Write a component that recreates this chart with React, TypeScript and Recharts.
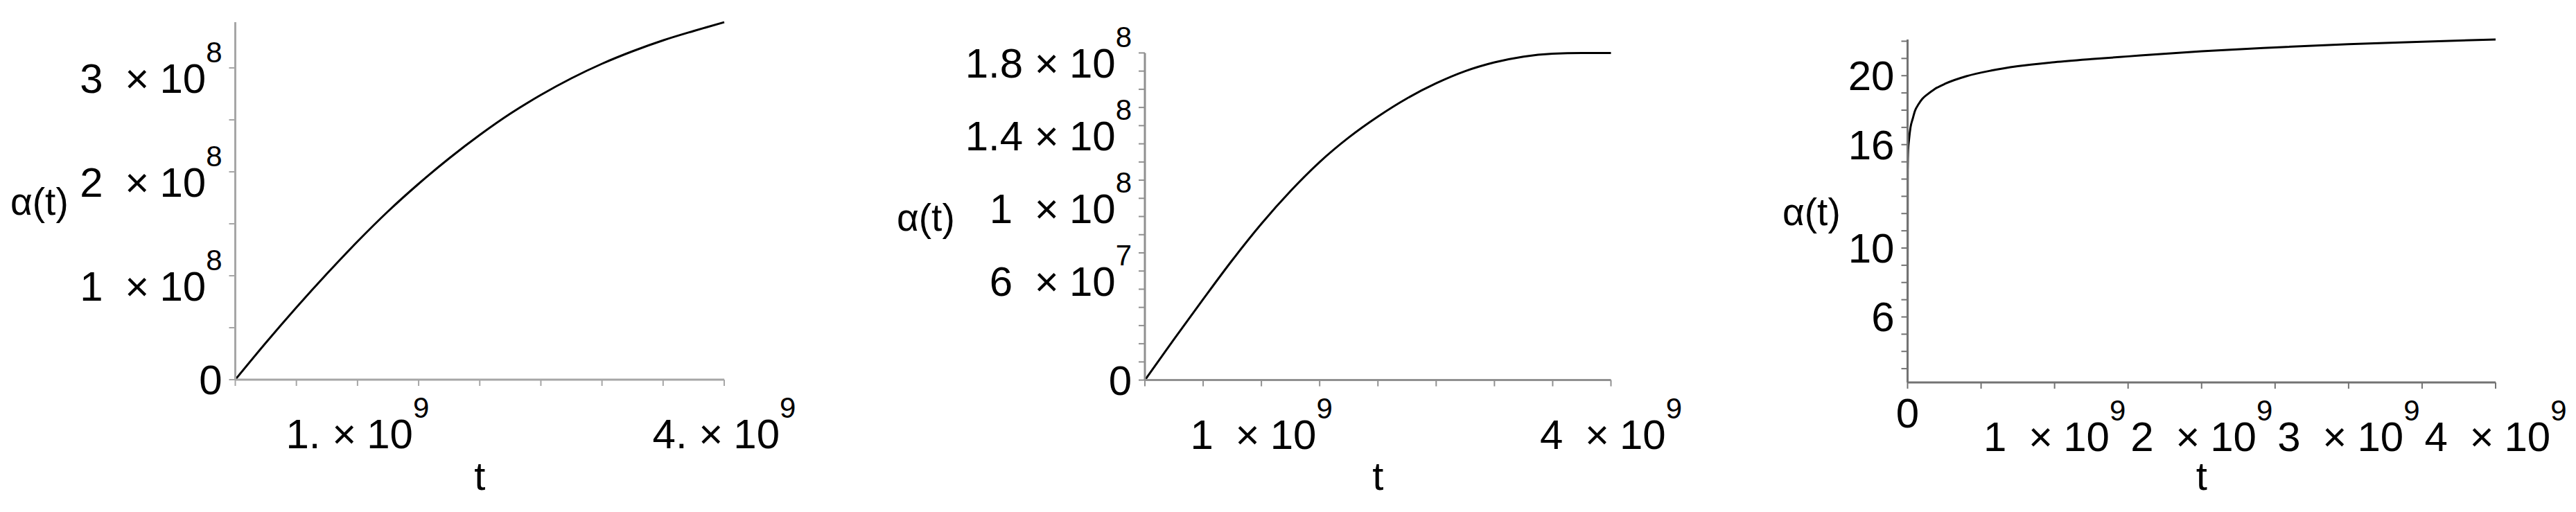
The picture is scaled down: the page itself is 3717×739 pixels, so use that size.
import { LineChart, Line, XAxis, YAxis, Label } from 'recharts'

const FONT = '"Liberation Sans", Arial, Helvetica, sans-serif'
const H = 739

// time grid shared by the first two plots
const tGrid = [0, 2.5e8, 5e8, 7.5e8, 1e9, 1.25e9, 1.5e9, 1.75e9, 2e9, 2.25e9, 2.5e9, 2.75e9, 3e9, 3.25e9, 3.5e9, 3.75e9, 4e9]
const alphaA = [0, 0.355e8, 0.695e8, 1.02e8, 1.33e8, 1.62e8, 1.885e8, 2.13e8, 2.355e8, 2.56e8, 2.74e8, 2.9e8, 3.04e8, 3.16e8, 3.265e8, 3.355e8, 3.44e8]
const alphaB = [0, 0.225e8, 0.445e8, 0.66e8, 0.86e8, 1.04e8, 1.2e8, 1.335e8, 1.45e8, 1.55e8, 1.633e8, 1.7e8, 1.748e8, 1.78e8, 1.796e8, 1.8e8, 1.8e8]

// third plot: steep start, then slow growth
const tC = [0, 1e6, 4e6, 1e7, 2e7, 3.5e7, 5e7, 7.5e7, 1e8, 1.4e8, 1.8e8, 2.6e8, 4e8, 5.7e8, 7.5e8, 1e9, 1.25e9, 1.5e9, 2e9, 2.5e9, 3e9, 3.5e9, 4e9]
const alphaC = [2.2, 14.5, 15.7, 16.3, 17.0, 17.5, 17.95, 18.35, 18.65, 18.95, 19.2, 19.55, 19.97, 20.3, 20.55, 20.78, 20.96, 21.12, 21.42, 21.64, 21.83, 21.97, 22.1]

const tTicks = [0, 5e8, 1e9, 1.5e9, 2e9, 2.5e9, 3e9, 3.5e9, 4e9]
const yTicksA = [0, 5e7, 1e8, 1.5e8, 2e8, 2.5e8, 3e8]
const yTicksB = [0, 1e7, 2e7, 3e7, 4e7, 5e7, 6e7, 7e7, 8e7, 9e7, 1e8, 1.1e8, 1.2e8, 1.3e8, 1.4e8, 1.5e8, 1.6e8, 1.7e8, 1.8e8]
const yTicksC = [3, 4, 5, 6, 7, 8, 9, 10, 11, 12, 13, 14, 15, 16, 17, 18, 19, 20, 21, 22]

type Lab = { v: number; m: string; e?: string }

const yLabelsA: Lab[] = [{ v: 0, m: '0' }, { v: 1e8, m: '1', e: '8' }, { v: 2e8, m: '2', e: '8' }, { v: 3e8, m: '3', e: '8' }]
const xLabelsA: Lab[] = [{ v: 1e9, m: '1.', e: '9' }, { v: 4e9, m: '4.', e: '9' }]
const yLabelsB: Lab[] = [{ v: 0, m: '0' }, { v: 6e7, m: '6', e: '7' }, { v: 1e8, m: '1', e: '8' }, { v: 1.4e8, m: '1.4', e: '8' }, { v: 1.8e8, m: '1.8', e: '8' }]
const xLabelsB: Lab[] = [{ v: 1e9, m: '1', e: '9' }, { v: 4e9, m: '4', e: '9' }]
const yLabelsC: Lab[] = [{ v: 6, m: '6' }, { v: 10, m: '10' }, { v: 16, m: '16' }, { v: 20, m: '20' }]
const xLabelsC: Lab[] = [{ v: 0, m: '0' }, { v: 1e9, m: '1', e: '9' }, { v: 2e9, m: '2', e: '9' }, { v: 3e9, m: '3', e: '9' }, { v: 4e9, m: '4', e: '9' }]

function spans(lab: Lab) {
  if (!lab.e) return lab.m
  // maple leaves a little extra room after integer mantissas
  const gap = 16.7 + (lab.m.includes('.') ? 0 : 15)
  return (
    <>
      <tspan>{lab.m}</tspan>
      <tspan dx={gap}>×</tspan>
      <tspan dx={15}>10</tspan>
      <tspan dy={-44} fontSize={42}>{lab.e}</tspan>
    </>
  )
}

function YTick(props: any) {
  const { x, y, payload, labels } = props
  const lab = labels.find((l: Lab) => l.v === payload.value)
  if (!lab) return <g />
  return (
    <text x={x - 8} y={lab.e ? y + 36 : y + 21} textAnchor="end" fontFamily={FONT} fontSize={60} fill="#000">
      {spans(lab)}
    </text>
  )
}

function XTick(props: any) {
  const { x, y, payload, labels } = props
  const lab = labels.find((l: Lab) => l.v === payload.value)
  if (!lab) return <g />
  const top = y + 11
  return (
    <text x={x} y={lab.e ? top + 77 : top + 43} textAnchor="middle" fontFamily={FONT} fontSize={60} fill="#000">
      {spans(lab)}
    </text>
  )
}

interface PanelProps {
  left: number
  width: number
  plotLeft: number
  plotRight: number
  plotTop: number
  plotBottom: number
  titleX: number
  axis: string
  t: number[]
  alpha: number[]
  yDomain: [number, number]
  yTicks: number[]
  yLabels: Lab[]
  xLabels: Lab[]
}

function Panel(p: PanelProps) {
  const data = p.t.map((t, i) => ({ t, a: p.alpha[i] }))
  const yMid = (p.plotTop + p.plotBottom) / 2 + 20
  const xMid = (p.plotLeft + p.plotRight) / 2 - p.left
  return (
    <div style={{ position: 'absolute', left: p.left, top: 0 }}>
      <LineChart
        width={p.width}
        height={H}
        data={data}
        margin={{ top: p.plotTop, right: p.left + p.width - p.plotRight, left: 0, bottom: 0 }}
      >
        <XAxis
          dataKey="t"
          type="number"
          domain={[0, 4e9]}
          ticks={tTicks}
          interval={0}
          height={H - p.plotBottom}
          axisLine={{ stroke: p.axis, strokeWidth: 3 }}
          tickLine={{ stroke: p.axis, strokeWidth: 2 }}
          tickSize={9}
          tickMargin={2}
          tick={(tp: any) => <XTick {...tp} labels={p.xLabels} />}
        >
          <Label
            content={() => (
              <text x={xMid} y={707} textAnchor="middle" fontFamily={FONT} fontSize={58} fill="#000">t</text>
            )}
          />
        </XAxis>
        <YAxis
          type="number"
          domain={p.yDomain}
          ticks={p.yTicks}
          interval={0}
          width={p.plotLeft - p.left}
          axisLine={{ stroke: p.axis, strokeWidth: 3 }}
          tickLine={{ stroke: p.axis, strokeWidth: 2 }}
          tickSize={9}
          tickMargin={2}
          tick={(tp: any) => <YTick {...tp} labels={p.yLabels} />}
        >
          <Label
            content={() => (
              <text x={p.titleX} y={yMid} fontFamily={FONT} fontSize={55} fill="#000">α(t)</text>
            )}
          />
        </YAxis>
        <Line dataKey="a" type="monotone" stroke="#000" strokeWidth={3} dot={false} isAnimationActive={false} />
      </LineChart>
    </div>
  )
}

export default function App() {
  return (
    <div style={{ position: 'absolute', left: 0, top: 0, width: 3717, height: H, background: '#fff' }}>
      <Panel
        left={0}
        width={1200}
        plotLeft={339.5}
        plotRight={1045}
        plotTop={32}
        plotBottom={548}
        titleX={15}
        axis="#a6a6a6"
        t={tGrid}
        alpha={alphaA}
        yDomain={[0, 3.44e8]}
        yTicks={yTicksA}
        yLabels={yLabelsA}
        xLabels={xLabelsA}
      />
      <Panel
        left={1200}
        width={1290}
        plotLeft={1652}
        plotRight={2324.5}
        plotTop={76.4}
        plotBottom={548.6}
        titleX={94}
        axis="#909090"
        t={tGrid}
        alpha={alphaB}
        yDomain={[0, 1.8e8]}
        yTicks={yTicksB}
        yLabels={yLabelsB}
        xLabels={xLabelsB}
      />
      <Panel
        left={2500}
        width={1217}
        plotLeft={2752.5}
        plotRight={3601}
        plotTop={57}
        plotBottom={552}
        titleX={72}
        axis="#737373"
        t={tC}
        alpha={alphaC}
        yDomain={[2.2, 22.1]}
        yTicks={yTicksC}
        yLabels={yLabelsC}
        xLabels={xLabelsC}
      />
    </div>
  )
}
